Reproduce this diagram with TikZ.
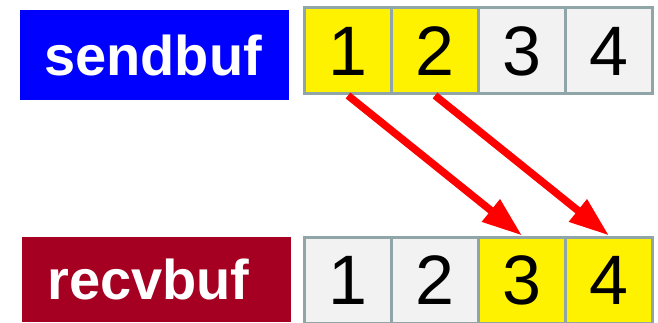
\documentclass[tikz,border=0pt]{standalone}
\usepackage{fontspec}
\setmainfont{Liberation Sans}
\usetikzlibrary{arrows.meta}
\definecolor{cellgray}{HTML}{F2F2F2}
\definecolor{cellborder}{HTML}{8FA5A8}
\definecolor{sendblue}{HTML}{0000FF}
\definecolor{recvred}{HTML}{A50021}
\tikzset{
  cell/.style={draw=cellborder, line width=3pt, fill=cellgray, minimum width=87pt, minimum height=86pt, inner sep=0pt, font=\fontsize{70}{70}\selectfont},
  hot/.style={fill=yellow},
  label box/.style={minimum width=269pt, inner sep=0pt, text=white, font=\fontsize{56}{56}\selectfont\bfseries},
  copyarrow/.style={draw=red, line width=7.5pt, -{Triangle[length=40pt,width=27pt]}}
}
\begin{document}
\begin{tikzpicture}[x=1pt,y=-1pt]
\useasboundingbox (0,0) rectangle (658,323);
\node[label box, fill=sendblue, minimum height=90pt] (send) at (154.5,55) {sendbuf\kern3pt};
\node[label box, fill=recvred, minimum height=85pt] (recv) at (156.5,279.5) {recvbuf\kern16pt};
\node[cell, hot] (s1) at (348,51) {1};
\node[cell, hot] (s2) at (435,51) {2};
\node[cell] (s3) at (522,51) {3};
\node[cell] (s4) at (609,51) {4};
\node[cell] (r1) at (348,280) {1};
\node[cell] (r2) at (435,280) {2};
\node[cell, hot] (r3) at (522,280) {3};
\node[cell, hot] (r4) at (609,280) {4};
\draw[copyarrow] (s1.south) -- (r3.north);
\draw[copyarrow] (s2.south) -- (r4.north);
\end{tikzpicture}
\end{document}
